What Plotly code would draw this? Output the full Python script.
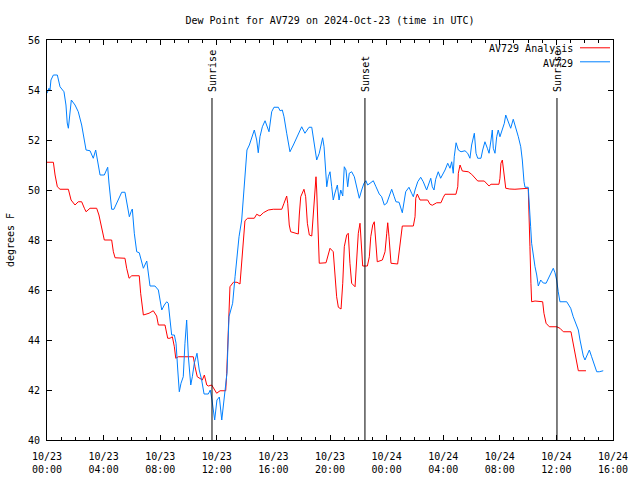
import plotly.graph_objects as go

# ---- data (hours since 2024-10-23 00:00 UTC, degrees F) ----
obs_hours = [0.00, 0.14, 0.21, 0.28, 0.45, 0.73, 0.92, 1.20, 1.34, 1.43, 1.51, 1.60, 1.72, 1.98, 2.21, 2.45,
             2.64, 2.76, 3.04, 3.27, 3.44, 3.55, 3.75, 4.05, 4.29, 4.38, 4.57, 4.73, 5.04, 5.28, 5.51, 5.70,
             5.82, 5.94, 6.03, 6.17, 6.34, 6.52, 6.81, 7.05, 7.28, 7.63, 7.87, 7.99, 8.11, 8.29, 8.46, 8.57,
             8.69, 8.81, 9.00, 9.12, 9.24, 9.35, 9.47, 9.63, 9.75, 9.87, 9.99, 10.16, 10.27, 10.41, 10.60,
             10.76, 10.93, 11.10, 11.40, 11.54, 11.66, 11.85, 12.01, 12.18, 12.35, 12.51, 12.65, 12.72, 12.86,
             12.98, 13.12, 13.29, 13.41, 13.57, 13.76, 13.87, 14.04, 14.13, 14.30, 14.47, 14.65, 14.82, 14.93,
             15.05, 15.22, 15.41, 15.57, 15.69, 15.88, 16.04, 16.35, 16.47, 16.63, 16.75, 16.94, 17.17, 17.41,
             17.76, 18.00, 18.23, 18.52, 18.71, 18.87, 19.06, 19.24, 19.48, 19.58, 19.65, 19.77, 19.88, 20.00,
             20.12, 20.23, 20.35, 20.52, 20.64, 20.76, 20.90, 21.01, 21.13, 21.25, 21.36, 21.53, 21.72, 21.89,
             22.07, 22.24, 22.40, 22.54, 22.66, 22.83, 23.06, 23.25, 23.48, 23.65, 23.84, 24.01, 24.17, 24.36,
             24.54, 24.66, 24.88, 25.00, 25.11, 25.35, 25.58, 25.77, 25.89, 26.01, 26.20, 26.41, 26.59, 26.83,
             27.00, 27.12, 27.23, 27.35, 27.47, 27.65, 27.82, 28.01, 28.13, 28.32, 28.48, 28.60, 28.71, 28.78,
             28.91, 29.07, 29.26, 29.54, 29.73, 29.89, 30.01, 30.20, 30.32, 30.44, 30.67, 30.79, 30.95, 31.12,
             31.24, 31.38, 31.47, 31.54, 31.66, 31.78, 31.89, 32.01, 32.18, 32.32, 32.42, 32.56, 32.77, 32.95,
             33.12, 33.31, 33.48, 33.59, 33.71, 33.78, 34.01, 34.08, 34.18, 34.25, 34.37, 34.49, 34.61, 34.72,
             34.89, 35.07, 35.27, 35.43, 35.60, 35.78, 35.90, 36.02, 36.13, 36.25, 36.73, 37.01, 37.19, 37.39,
             37.55, 37.67, 37.79, 37.90, 38.02, 38.18, 38.33, 38.49, 38.66, 38.85, 39.03, 39.31]
obs_dewpt = [53.87, 54.07, 54.00, 54.40, 54.60, 54.60, 54.13, 53.93, 53.40, 52.68, 52.47, 53.00, 53.60, 53.40,
             53.13, 52.60, 52.00, 51.60, 51.57, 51.27, 51.60, 51.28, 50.60, 50.60, 50.91, 50.28, 49.23, 49.23,
             49.60, 49.91, 49.91, 49.20, 48.93, 49.13, 49.24, 48.27, 47.53, 47.49, 46.87, 47.16, 46.16, 46.16,
             46.00, 45.60, 45.20, 45.40, 45.53, 45.47, 44.93, 44.20, 44.20, 43.87, 42.80, 41.93, 42.27, 42.53,
             43.87, 44.80, 43.33, 42.20, 42.53, 43.07, 43.47, 42.80, 42.40, 41.84, 41.84, 42.00, 41.60, 40.80,
             41.60, 41.72, 40.80, 41.60, 42.13, 42.68, 44.93, 45.20, 45.47, 46.53, 47.20, 48.13, 48.80, 49.73,
             50.80, 51.60, 51.80, 52.07, 52.40, 52.00, 51.49, 52.13, 52.53, 52.77, 52.56, 52.33, 53.13, 53.31,
             53.31, 53.17, 53.20, 52.93, 52.27, 51.53, 51.80, 52.20, 52.53, 52.27, 52.51, 52.51, 51.87, 51.20,
             51.47, 52.09, 51.73, 51.07, 50.13, 50.53, 50.73, 50.13, 49.60, 49.88, 50.20, 49.60, 50.00, 49.76,
             50.93, 50.80, 50.13, 50.67, 50.73, 50.53, 50.13, 49.67, 50.00, 50.27, 50.37, 50.20, 50.27, 50.37,
             50.13, 49.84, 49.73, 49.40, 49.47, 49.73, 50.03, 49.73, 49.53, 49.51, 49.33, 49.09, 49.93, 50.11,
             49.87, 49.73, 50.00, 50.33, 50.51, 50.33, 50.00, 50.33, 50.47, 50.13, 50.00, 50.43, 50.73, 50.47,
             50.67, 50.80, 51.07, 50.87, 51.13, 50.67, 51.33, 51.89, 51.60, 51.53, 51.57, 51.47, 51.27, 51.80,
             52.27, 51.47, 51.27, 51.27, 51.60, 51.93, 51.67, 51.47, 52.00, 52.40, 51.67, 51.47, 52.13, 52.40,
             52.13, 52.47, 52.67, 53.00, 52.80, 52.47, 52.83, 52.53, 52.13, 51.73, 51.20, 50.33, 50.11, 50.11,
             49.60, 48.53, 47.87, 47.33, 46.93, 46.60, 46.16, 46.40, 46.28, 46.27, 46.47, 46.69, 46.87, 46.69,
             46.40, 45.93, 45.53, 45.53, 45.27, 44.93, 44.64, 44.40, 44.00, 43.60, 43.36, 43.20, 43.40, 43.60,
             43.33, 43.00, 42.73, 42.73, 42.77]

ana_hours = [0.00, 0.45, 0.57, 0.73, 0.92, 1.51, 1.70, 1.98, 2.21, 2.45, 2.64, 2.76, 3.04, 3.51, 3.67, 3.87,
             4.05, 4.57, 4.69, 4.81, 5.51, 5.63, 5.80, 5.99, 6.52, 6.62, 6.73, 6.81, 7.21, 7.51, 7.75, 7.87,
             8.34, 8.53, 8.69, 8.86, 9.00, 9.10, 9.28, 10.34, 10.46, 10.62, 10.98, 11.12, 11.29, 11.40, 11.64,
             11.82, 11.99, 12.23, 12.63, 12.70, 12.81, 12.86, 12.93, 13.17, 13.43, 13.64, 13.76, 13.87, 13.99,
             14.18, 14.65, 14.82, 15.05, 15.29, 15.64, 15.99, 16.59, 16.75, 16.94, 17.01, 17.12, 17.22, 17.53,
             17.76, 17.83, 17.93, 18.16, 18.28, 18.40, 18.54, 18.71, 18.82, 18.94, 19.01, 19.06, 19.17, 19.24,
             19.72, 19.88, 20.00, 20.23, 20.35, 20.47, 20.59, 20.78, 20.90, 21.01, 21.18, 21.29, 21.41, 21.53,
             21.77, 21.89, 22.00, 22.12, 22.24, 22.31, 22.64, 22.78, 22.88, 23.02, 23.13, 23.25, 23.34, 23.70,
             23.89, 24.01, 24.08, 24.17, 24.24, 24.31, 24.78, 24.88, 25.00, 25.11, 25.89, 26.01, 26.06, 26.17,
             26.36, 26.90, 27.07, 27.23, 27.54, 27.84, 28.01, 28.13, 28.90, 29.03, 29.07, 29.19, 29.35, 29.77,
             30.01, 30.25, 30.44, 30.90, 31.07, 31.24, 31.38, 31.94, 32.01, 32.08, 32.18, 32.25, 32.42, 32.70,
             33.07, 34.01, 34.06, 34.13, 34.20, 34.25, 34.49, 35.03, 35.12, 35.27, 35.50, 36.02, 36.25, 36.49,
             37.03, 37.19, 37.39, 37.55, 38.09]
ana_dewpt = [51.11, 51.11, 50.60, 50.13, 50.03, 50.03, 49.60, 49.40, 49.53, 49.53, 49.27, 49.13, 49.27, 49.27,
             49.00, 48.53, 48.00, 48.00, 47.53, 47.29, 47.27, 46.87, 46.47, 46.57, 46.57, 45.87, 45.33, 45.00,
             45.07, 45.17, 44.96, 44.60, 44.60, 44.07, 44.07, 44.13, 43.73, 43.27, 43.33, 43.33, 42.93, 42.53,
             42.40, 42.60, 42.20, 42.16, 42.20, 42.00, 41.87, 41.97, 41.97, 42.67, 44.13, 45.47, 46.13, 46.31,
             46.31, 46.24, 47.13, 48.00, 48.77, 48.87, 48.87, 49.03, 48.96, 49.09, 49.20, 49.23, 49.23, 49.47,
             49.76, 49.47, 48.60, 48.33, 48.27, 48.24, 49.00, 49.73, 50.03, 49.73, 48.67, 48.20, 48.16, 48.93,
             50.13, 50.53, 50.00, 48.27, 47.07, 47.09, 47.40, 47.67, 47.53, 46.67, 45.73, 45.31, 45.24, 46.27,
             47.73, 48.20, 48.27, 47.07, 46.27, 46.13, 47.20, 48.27, 48.67, 47.73, 46.96, 46.96, 47.33, 48.13,
             48.60, 48.73, 47.73, 47.13, 47.20, 47.53, 48.27, 48.69, 48.13, 47.53, 47.07, 47.04, 47.53, 47.93,
             48.56, 48.56, 48.93, 49.67, 49.84, 49.60, 49.60, 49.43, 49.39, 49.49, 49.49, 49.71, 49.83, 49.83,
             50.13, 50.67, 51.00, 50.76, 50.73, 50.63, 50.47, 50.36, 50.36, 50.24, 50.16, 50.23, 50.23, 50.47,
             51.07, 51.20, 50.80, 50.07, 50.04, 50.03, 50.07, 49.33, 47.73, 46.27, 45.53, 45.56, 45.53, 45.07,
             44.67, 44.53, 44.53, 44.47, 44.33, 44.33, 43.80, 43.20, 42.77, 42.77]

event_hours = [11.66, 22.47, 36.04]
event_names = ["Sunrise", "Sunset", "Sunrise"]

tick_hours = [0, 4, 8, 12, 16, 20, 24, 28, 32, 36, 40]
tick_labels = ["10/23<br>00:00", "10/23<br>04:00", "10/23<br>08:00", "10/23<br>12:00", "10/23<br>16:00",
               "10/23<br>20:00", "10/24<br>00:00", "10/24<br>04:00", "10/24<br>08:00", "10/24<br>12:00",
               "10/24<br>16:00"]
y_ticks = [40, 42, 44, 46, 48, 50, 52, 54, 56]

series_names = ["AV729 Analysis", "AV729"]
series_colors = ["#ff0000", "#0080ff"]

FONT = "DejaVu Sans Mono"

fig = go.Figure()
fig.add_trace(go.Scatter(x=ana_hours, y=ana_dewpt, mode="lines", name=series_names[0],
                         line=dict(color=series_colors[0], width=1), showlegend=False))
fig.add_trace(go.Scatter(x=obs_hours, y=obs_dewpt, mode="lines", name=series_names[1],
                         line=dict(color=series_colors[1], width=1), showlegend=False))

# event markers
for h, name in zip(event_hours, event_names):
    fig.add_shape(type="line", xref="x", yref="y", x0=h, x1=h, y0=40, y1=53.68,
                  line=dict(color="black", width=1))
    fig.add_annotation(x=h, y=53.68, xref="x", yref="y", text=name, textangle=-90,
                       showarrow=False, xanchor="center", yanchor="bottom", yshift=4,
                       font=dict(family=FONT, size=10, color="black"))

# manual gnuplot-style legend (text right-aligned, sample line to the right)
legend_y = [0.9775, 0.9425]
for name, col, ly in zip(series_names, series_colors, legend_y):
    fig.add_annotation(x=0.933, y=ly, xref="paper", yref="paper", text=name, showarrow=False,
                       xanchor="right", yanchor="middle", font=dict(family=FONT, size=10, color="black"))
    fig.add_shape(type="line", xref="paper", yref="paper", x0=0.9417, x1=0.9947, y0=ly + 0.003, y1=ly + 0.003,
                  line=dict(color=col, width=1))

fig.update_layout(
    width=640, height=480,
    margin=dict(l=47, r=27, t=40, b=40),
    paper_bgcolor="white", plot_bgcolor="white",
    font=dict(family=FONT, size=10, color="black"),
    title=dict(text="Dew Point for AV729 on 2024-Oct-23 (time in UTC)", x=0.5, xref="paper",
               y=1 - 20 / 480, yanchor="middle", font=dict(family=FONT, size=10, color="black")),
    showlegend=False,
)
fig.update_xaxes(range=[0, 40], tickmode="array", tickvals=tick_hours, ticktext=tick_labels,
                 automargin=False,
                 showgrid=False, zeroline=False, showline=True, linecolor="black", linewidth=1,
                 mirror="allticks", ticks="inside", ticklen=5, tickcolor="black", ticklabelstandoff=7,
                 minor=dict(dtick=1, ticks="inside", ticklen=3, tickcolor="black", showgrid=False),
                 tickfont=dict(family=FONT, size=10))
fig.update_yaxes(range=[40, 56], tickmode="array", tickvals=y_ticks, automargin=False,
                 showgrid=False, zeroline=False, showline=True, linecolor="black", linewidth=1,
                 mirror="allticks", ticks="inside", ticklen=5, tickcolor="black", ticklabelstandoff=4,
                 tickfont=dict(family=FONT, size=10),
                 title=dict(text="degrees F", standoff=11, font=dict(family=FONT, size=10)))

fig.write_html("out.html", config={"displayModeBar": False},
               post_script="document.body.style.margin='0';")
